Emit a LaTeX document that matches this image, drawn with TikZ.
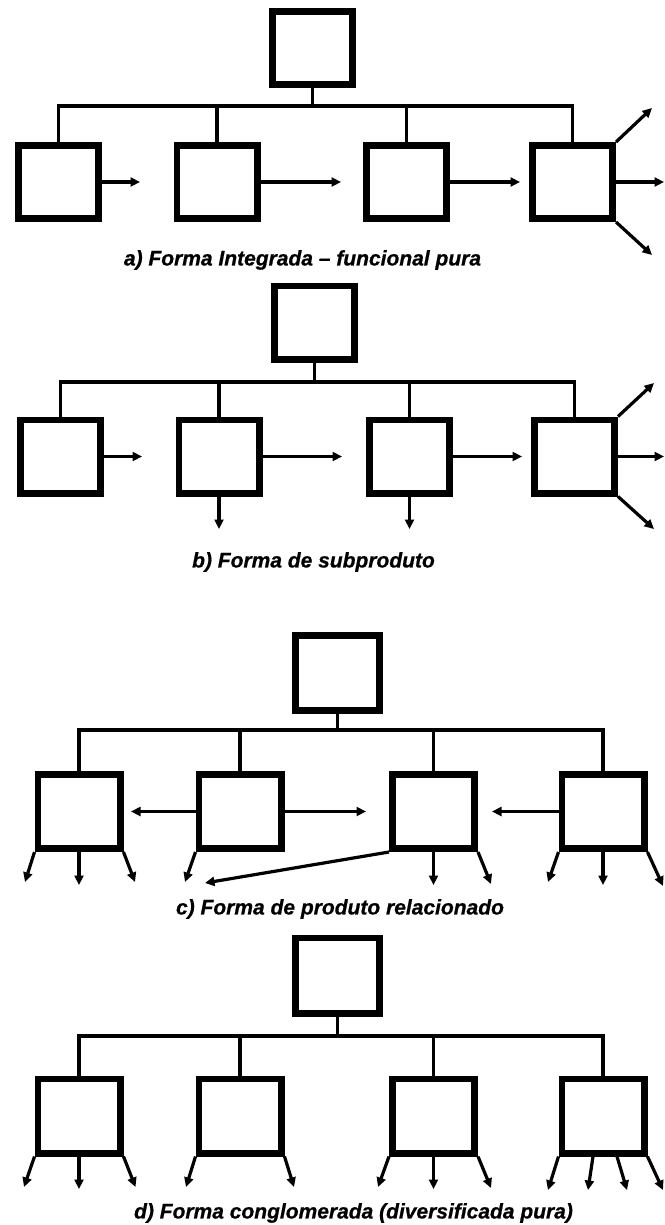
\documentclass[tikz,border=0pt]{standalone}
\usepackage{fontspec}
\setmainfont{Liberation Sans}
\newfontfamily\capfont[BoldItalicFeatures={FakeBold=0.7}]{Liberation Sans}
\usetikzlibrary{arrows.meta,calc}
\begin{document}
\begin{tikzpicture}[x=1pt,y=-1pt,
  unit/.style={draw,line width=6.6pt,inner sep=0pt,minimum width=80.4pt,minimum height=73.4pt},
  unitc/.style={unit,minimum width=82.4pt,minimum height=74.4pt},
  headc/.style={unit,minimum width=84.4pt,minimum height=75.4pt},
  link/.style={line width=3.2pt},
  flow/.style={line width=3.2pt,-{Triangle[length=9.5pt,width=9pt]}},
  caption/.style={font=\capfont\fontsize{21}{25}\selectfont\bfseries\itshape,inner sep=0pt}]
\useasboundingbox (0,0) rectangle (664,1225);

% ---------- a) integrated / pure functional form ----------
\node[unit] (a0) at (312.5,48) {};
\node[unit] (a1) at (58.5,182) {};
\node[unit] (a2) at (217,182) {};
\node[unit] (a3) at (406.5,182) {};
\node[unit] (a4) at (572.5,182) {};
\coordinate (abus) at (312.5,106);
\draw[link] (a0.south) -- (abus);
\draw[link] (a1.north) |- (abus) -| (a4.north);
\draw[link] (a2.north) -- (a2.north |- abus);
\draw[link] (a3.north) -- (a3.north |- abus);
\coordinate (a1o) at (140,182);
\coordinate (a2o) at (341,182);
\coordinate (a3o) at (520,182);
\coordinate (a4o) at (664,182);
\coordinate (a4u) at (652,108);
\coordinate (a4d) at (652,255);
\draw[flow] (a1.east) -- (a1o);
\draw[flow] (a2.east) -- (a2o);
\draw[flow] (a3.east) -- (a3o);
\draw[flow] (a4.east) -- (a4o);
\draw[flow] (a4.north east) -- (a4u);
\draw[flow] (a4.south east) -- (a4d);
\node[caption] (acap) at (302.5,260) {a) Forma Integrada – funcional pura};

% ---------- b) by-product form ----------
\node[unit] (b0) at (314.5,322.5) {};
\node[unit] (b1) at (60.5,456.5) {};
\node[unit] (b2) at (219,456.5) {};
\node[unit] (b3) at (409.5,456.5) {};
\node[unit] (b4) at (574.5,456.5) {};
\coordinate (bbus) at (314.5,382);
\draw[link] (b0.south) -- (bbus);
\draw[link] (b1.north) |- (bbus) -| (b4.north);
\draw[link] (b2.north) -- (b2.north |- bbus);
\draw[link] (b3.north) -- (b3.north |- bbus);
\coordinate (b1o) at (142,456.5);
\coordinate (b2o) at (342,456.5);
\coordinate (b3o) at (522,456.5);
\coordinate (b4o) at (664,456.5);
\coordinate (b4u) at (654,383);
\coordinate (b4d) at (654,529);
\coordinate (b2d) at (219,529);
\coordinate (b3d) at (409.5,529);
\draw[flow] (b1.east) -- (b1o);
\draw[flow] (b2.east) -- (b2o);
\draw[flow] (b3.east) -- (b3o);
\draw[flow] (b4.east) -- (b4o);
\draw[flow] (b4.north east) -- (b4u);
\draw[flow] (b4.south east) -- (b4d);
\draw[flow] (b2.south) -- (b2d);
\draw[flow] (b3.south) -- (b3d);
\node[caption] (bcap) at (313.5,562) {b) Forma de subproduto};

% ---------- c) related-product form ----------
\node[headc] (c0) at (337.5,673) {};
\node[unitc] (c1) at (79,811.5) {};
\node[unitc] (c2) at (240,811.5) {};
\node[unitc] (c3) at (433.5,811.5) {};
\node[unitc] (c4) at (603,811.5) {};
\coordinate (cbus) at (337.5,730);
\draw[link] (c0.south) -- (cbus);
\draw[link] (c1.north) |- (cbus) -| (c4.north);
\draw[link] (c2.north) -- (c2.north |- cbus);
\draw[link] (c3.north) -- (c3.north |- cbus);
\coordinate (c2l) at (131,811.5);
\coordinate (c2r) at (366,811.5);
\coordinate (c4l) at (492,811.5);
\draw[flow] (c2.west) -- (c2l);
\draw[flow] (c2.east) -- (c2r);
\draw[flow] (c4.west) -- (c4l);
\coordinate (c1a) at (25,882);
\coordinate (c1b) at (79,885);
\coordinate (c1c) at (135,882);
\coordinate (c2a) at (185,882);
\coordinate (c3a) at (205,883);
\coordinate (c3b) at (433.5,885);
\coordinate (c3c) at (491,884);
\coordinate (c4a) at (548,882);
\coordinate (c4b) at (603,885);
\coordinate (c4c) at (663,886);
\draw[flow] (c1.south west) -- (c1a);
\draw[flow] (c1.south) -- (c1b);
\draw[flow] (c1.south east) -- (c1c);
\draw[flow] (c2.south west) -- (c2a);
\draw[flow] (c3.south west) -- (c3a);
\draw[flow] (c3.south) -- (c3b);
\draw[flow] (c3.south east) -- (c3c);
\draw[flow] (c4.south west) -- (c4a);
\draw[flow] (c4.south) -- (c4b);
\draw[flow] (c4.south east) -- (c4c);
\node[caption] (ccap) at (340,909) {c) Forma de produto relacionado};

% ---------- d) conglomerate (pure diversified) form ----------
\node[headc] (d0) at (337.5,975.5) {};
\node[unitc] (d1) at (79,1116) {};
\node[unitc] (d2) at (240,1116) {};
\node[unitc] (d3) at (433.5,1116) {};
\node[unitc] (d4) at (603,1116) {};
\coordinate (dbus) at (337.5,1036);
\draw[link] (d0.south) -- (dbus);
\draw[link] (d1.north) |- (dbus) -| (d4.north);
\draw[link] (d2.north) -- (d2.north |- dbus);
\draw[link] (d3.north) -- (d3.north |- dbus);
\coordinate (d1a) at (24,1187);
\coordinate (d1b) at (79,1189);
\coordinate (d1c) at (135.5,1187);
\coordinate (d2a) at (186,1187);
\coordinate (d2c) at (294,1187);
\coordinate (d3a) at (378,1187);
\coordinate (d3b) at (433.5,1189);
\coordinate (d3c) at (491,1188);
\coordinate (d4a) at (548,1190);
\coordinate (d4b) at (588,1190);
\coordinate (d4c) at (627,1190);
\coordinate (d4e) at (663,1190);
\draw[flow] (d1.south west) -- (d1a);
\draw[flow] (d1.south) -- (d1b);
\draw[flow] (d1.south east) -- (d1c);
\draw[flow] (d2.south west) -- (d2a);
\draw[flow] (d2.south east) -- (d2c);
\draw[flow] (d3.south west) -- (d3a);
\draw[flow] (d3.south) -- (d3b);
\draw[flow] (d3.south east) -- (d3c);
\draw[flow] (d4.south west) -- (d4a);
\draw[flow] ($(d4.south)+(-10,0)$) -- (d4b);
\draw[flow] ($(d4.south)+(14,0)$) -- (d4c);
\draw[flow] (d4.south east) -- (d4e);
\node[caption] (dcap) at (353.5,1213) {d) Forma conglomerada (diversificada pura)};
\end{tikzpicture}
\end{document}
